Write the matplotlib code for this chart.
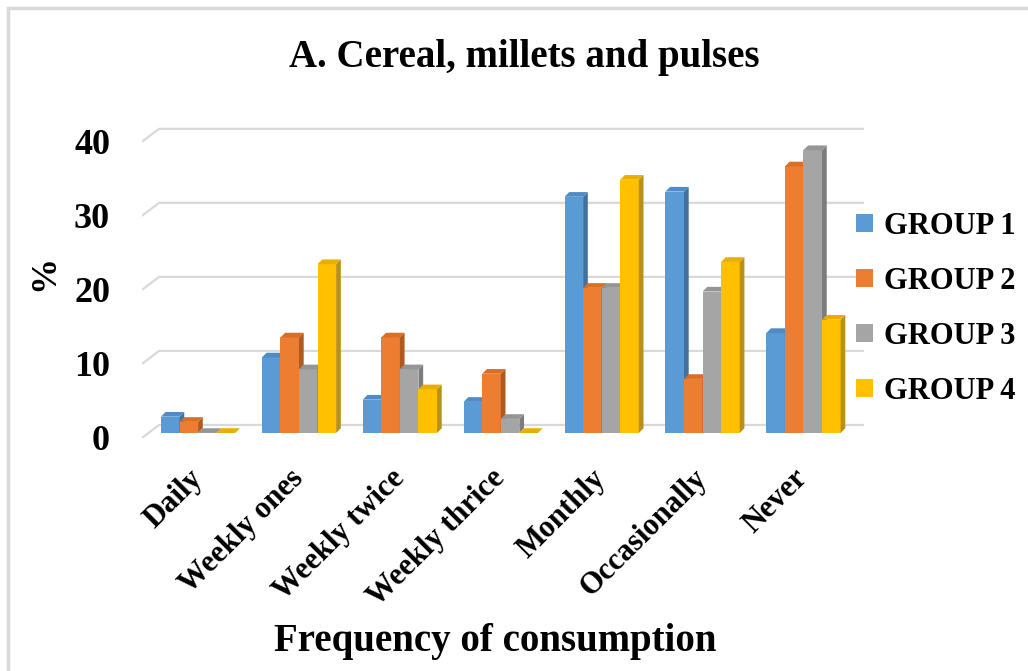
import matplotlib
matplotlib.use("Agg")
import matplotlib.pyplot as plt
from matplotlib.patches import Polygon, Rectangle

categories = ["Daily", "Weekly ones", "Weekly twice", "Weekly thrice",
              "Monthly", "Occasionally", "Never"]
series_names = ["GROUP 1", "GROUP 2", "GROUP 3", "GROUP 4"]
group1 = [2.2, 10.2, 4.5, 4.2, 31.9, 32.6, 13.5]
group2 = [1.5, 12.9, 12.9, 8.0, 19.6, 7.3, 36.0]
group3 = [0.0, 8.6, 8.6, 1.9, 19.6, 19.1, 38.2]
group4 = [0.0, 22.8, 5.9, 0.0, 34.2, 23.1, 15.3]
yticks = [0, 10, 20, 30, 40]

front_col = ["#5B9BD5", "#ED7D31", "#A5A5A5", "#FFC000"]
top_col = ["#4F8BC4", "#D96E26", "#959595", "#E8AE00"]
side_col = ["#41719C", "#AE5A21", "#7C7C7C", "#B8901A"]

plt.rcParams["font.family"] = "Liberation Serif"
plt.rcParams["font.weight"] = "bold"

W, H = 1028, 671
fig = plt.figure(figsize=(W / 100, H / 100), dpi=100)
fig.patch.set_facecolor("white")

# chart border
fig.add_artist(Rectangle((8 / W, -0.05), 1.2, (H - 8) / H + 0.05,
                         transform=fig.transFigure, fill=False,
                         edgecolor="#D9D9D9", linewidth=2.5))

left_px, right_px, top_px, bot_px = 142, 864, 122, 438
ax = fig.add_axes([left_px / W, 1 - bot_px / H,
                   (right_px - left_px) / W, (bot_px - top_px) / H])
xmin, xmax = -0.556, 6.6
ymin, ymax = -0.68, 42.0
ax.set_xlim(xmin, xmax)
ax.set_ylim(ymin, ymax)
for s in ax.spines.values():
    s.set_visible(False)

px_x = (xmax - xmin) / (right_px - left_px)
px_y = (ymax - ymin) / (bot_px - top_px)

front_off = 5 * px_y       # front-plane gridline below bar baseline
back_off = 8 * px_y        # back-plane gridline above bar baseline
diag_dx = 17 * px_x

# gridlines (3D floor/back look)
for t in yticks:
    ax.plot([xmin, xmin + diag_dx, xmax], [t - front_off, t + back_off, t + back_off],
            color="#D9D9D9", linewidth=1.6, zorder=1, solid_capstyle="butt")

series = [group1, group2, group3, group4]
bw = 0.184
dx = 4.7 * px_x
dy = 4.7 * px_y
z = 2
for i in range(len(categories)):
    for j, vals in enumerate(series):
        v = vals[i]
        x0 = i + (j - 1.5) * bw - bw / 2
        x1 = x0 + bw
        ax.bar(x0, v, width=bw, align="edge", color=front_col[j],
               edgecolor="none", zorder=z)
        ax.add_patch(Polygon([(x1, 0), (x1 + dx, dy), (x1 + dx, v + dy), (x1, v)],
                             closed=True, facecolor=side_col[j], edgecolor="none",
                             zorder=z))
        ax.add_patch(Polygon([(x0, v), (x0 + dx, v + dy), (x1 + dx, v + dy), (x1, v)],
                             closed=True, facecolor=top_col[j], edgecolor="none",
                             zorder=z))
        z += 1

ax.set_yticks([t - front_off for t in yticks], [str(t) for t in yticks])
ax.set_xticks(range(len(categories)), categories, rotation=45,
              ha="right", va="center", rotation_mode="anchor")
ax.tick_params(axis="y", length=0, pad=23, labelsize=26)
ax.tick_params(axis="x", length=0, pad=26, labelsize=22)
for lab in ax.get_xticklabels() + ax.get_yticklabels():
    lab.set_fontweight("bold")

fig.text(524 / W, 1 - 58 / H, "A. Cereal, millets and pulses", ha="center",
         va="center", fontsize=28, fontweight="bold")
fig.text(495 / W, 1 - 641 / H, "Frequency of consumption", ha="center",
         va="center", fontsize=28, fontweight="bold")
fig.text(45 / W, 1 - 273 / H, "%", ha="center", va="center", rotation=90,
         fontsize=26, fontweight="bold")

handles = [Rectangle((0, 0), 1, 1, facecolor=c, edgecolor="none") for c in front_col]
leg = fig.legend(handles, series_names, loc="center left",
                 bbox_to_anchor=(856 / W, 1 - 309 / H), frameon=False,
                 prop={"family": "Liberation Serif", "weight": "bold", "size": 22},
                 handlelength=0.55, handleheight=0.55, handletextpad=0.35,
                 labelspacing=0.85, borderpad=0, borderaxespad=0)

fig.savefig("out.png", dpi=100, facecolor="white")
